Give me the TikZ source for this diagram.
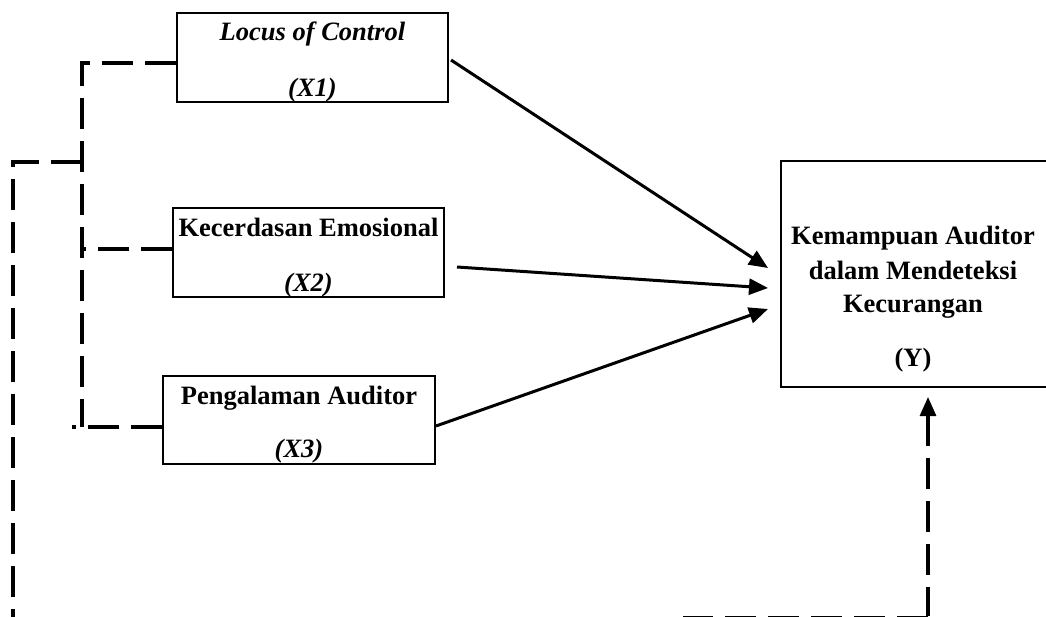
\documentclass[tikz,border=0pt]{standalone}
\usepackage{fontspec}
\setmainfont{Liberation Serif}
\usetikzlibrary{arrows.meta}
\begin{document}
\begin{tikzpicture}[x=1pt,y=-1pt,
  box/.style={draw,line width=1.8pt,rectangle,inner sep=0pt},
  lbl/.style={font=\fontsize{26.5}{30}\selectfont\bfseries,inner sep=0pt,anchor=base},
  ilbl/.style={font=\fontsize{26.5}{30}\selectfont\bfseries\itshape,inner sep=0pt,anchor=base},
  path/.style={line width=3pt,-{Triangle[length=19pt,width=16pt]}},
  dsh/.style={line width=3.4pt,dash pattern=on 31pt off 12pt}]
\useasboundingbox (0,0) rectangle (1046,616);
% boxes
\node[box,minimum width=271pt,minimum height=89pt] (x1) at (312.5,57.5) {};
\node[box,minimum width=271pt,minimum height=89pt] (x2) at (308.5,252.5) {};
\node[box,minimum width=272pt,minimum height=88pt] (x3) at (299,420) {};
\node[box,minimum width=268pt,minimum height=226pt] (y) at (915,274) {};
% texts
\node[ilbl] (t1a) at (312.5,40) {Locus of Control};
\node[ilbl] (t1b) at (312.5,96) {(X1)};
\node[lbl] (t2a) at (308.5,236) {Kecerdasan Emosional};
\node[ilbl] (t2b) at (308.5,291) {(X2)};
\node[lbl] (t3a) at (299,404) {Pengalaman Auditor};
\node[ilbl] (t3b) at (299,457) {(X3)};
\node[lbl] (ya) at (913,244) {Kemampuan Auditor};
\node[lbl] (yb) at (913,279) {dalam Mendeteksi};
\node[lbl] (yc) at (913,312) {Kecurangan};
\node[lbl] (yd) at (913,366) {(Y)};
% arrow targets
\coordinate (e1) at (768,268);
\coordinate (e2) at (768,288);
\coordinate (e3) at (768,309);
\coordinate (s1) at (451,60);
\coordinate (s2) at (457,267);
\coordinate (s3) at (436,426);
\draw[path] (s1) -- (e1);
\draw[path] (s2) -- (e2);
\draw[path] (s3) -- (e3);
% dashed moderation lines
\coordinate (c1) at (82,63);
\coordinate (c2) at (82,427);
\coordinate (c3) at (82,249);
\coordinate (c4) at (72,427);
\coordinate (c5) at (82,162);
\coordinate (c6) at (13,162);
\coordinate (c7) at (13,640);
\coordinate (b1) at (683,617.5);
\coordinate (b2) at (928,617.5);
\coordinate (b3) at (928,616);
\coordinate (yt) at (928,397);
\draw[dsh] (x1.west |- c1) -- (c1) -- (c2);
\draw[dsh] (x2.west |- c3) -- (c3);
\draw[dsh] (x3.west |- c4) -- (c4);
\draw[dsh] (c5) -- (c6) -- (c7);
\draw[dsh] (b2) -- (b1);
\draw[dsh,dash phase=2pt] (b3) -- ([yshift=-16pt]yt);
\draw[path] ([yshift=-24pt]yt) -- (yt);
\end{tikzpicture}
\end{document}
